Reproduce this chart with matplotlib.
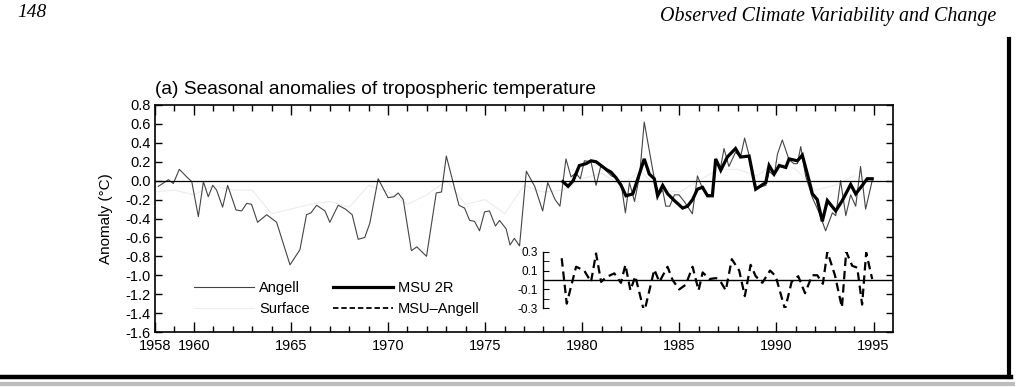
"""
Seasonal anomalies of tropospheric temperature (scanned book figure, panel a).
Values are read off the printed page by eye.
"""

import matplotlib
matplotlib.use("Agg")
import matplotlib.pyplot as plt
from matplotlib.lines import Line2D

plt.rcParams["font.family"] = ["Liberation Sans", "DejaVu Sans"]

# ── Data ──────────────────────────────────────────────────────────────
angell_t = [1958.17, 1958.69, 1958.94, 1959.25, 1959.63, 1959.89, 1960.23, 1960.49,
            1960.74, 1960.97, 1961.17, 1961.48, 1961.74, 1962.17, 1962.46, 1962.72,
            1962.97, 1963.28, 1963.75, 1964.26, 1964.95, 1965.46, 1965.80, 1966.03,
            1966.32, 1966.75, 1967.00, 1967.43, 1967.80, 1968.15, 1968.46, 1968.80,
            1969.06, 1969.49, 1970.00, 1970.30, 1970.52, 1970.78, 1971.20, 1971.48,
            1971.98, 1972.48, 1972.75, 1973.00, 1973.30, 1973.65, 1973.94, 1974.20,
            1974.45, 1974.71, 1974.97, 1975.22, 1975.53, 1975.74, 1976.08, 1976.28,
            1976.50, 1976.77, 1977.12, 1977.55, 1977.96, 1978.22, 1978.60, 1978.85,
            1979.16, 1979.42, 1979.67, 1979.90, 1980.11, 1980.45, 1980.71, 1980.97,
            1981.25, 1981.50, 1981.75, 1982.00, 1982.22, 1982.43, 1982.69, 1982.95,
            1983.19, 1983.71, 1983.95, 1984.14, 1984.30, 1984.50, 1984.75, 1984.98,
            1985.25, 1985.67, 1985.93, 1986.19, 1986.45, 1986.70, 1986.87, 1987.13,
            1987.30, 1987.55, 1987.89, 1988.15, 1988.36, 1988.60, 1988.93, 1989.45,
            1989.62, 1989.88, 1990.05, 1990.30, 1990.65, 1990.90, 1991.08, 1991.25,
            1991.50, 1991.85, 1992.20, 1992.53, 1992.88, 1993.05, 1993.30, 1993.57,
            1993.82, 1994.08, 1994.33, 1994.59, 1994.93]
angell_v = [-0.06, 0.01, -0.03, 0.12, 0.04, -0.01, -0.38, -0.01,
            -0.17, -0.05, -0.10, -0.28, -0.05, -0.31, -0.32, -0.24,
            -0.25, -0.44, -0.36, -0.44, -0.89, -0.73, -0.36, -0.34,
            -0.26, -0.32, -0.44, -0.26, -0.30, -0.36, -0.62, -0.60,
            -0.45, 0.02, -0.18, -0.17, -0.13, -0.20, -0.74, -0.70,
            -0.80, -0.13, -0.12, 0.26, 0.02, -0.26, -0.29, -0.42,
            -0.43, -0.53, -0.33, -0.32, -0.48, -0.42, -0.51, -0.68,
            -0.61, -0.69, 0.10, -0.06, -0.32, -0.02, -0.20, -0.27,
            0.23, 0.04, 0.08, 0.02, 0.21, 0.20, -0.05, 0.17,
            0.10, 0.05, 0.03, -0.03, -0.34, -0.02, -0.22, 0.05,
            0.62, 0.02, -0.15, -0.10, -0.27, -0.27, -0.15, -0.15,
            -0.22, -0.35, 0.05, -0.08, -0.15, -0.15, 0.20, 0.15,
            0.34, 0.15, 0.30, 0.25, 0.45, 0.26, -0.08, -0.05,
            0.10, 0.05, 0.28, 0.43, 0.22, 0.18, 0.18, 0.36,
            0.05, -0.18, -0.34, -0.53, -0.34, -0.37, 0.00, -0.37,
            -0.15, -0.27, 0.15, -0.30, 0.00]

msu_t = [1979.00, 1979.27, 1979.53, 1979.85, 1980.20, 1980.45, 1980.71, 1980.97,
         1981.22, 1981.48, 1981.74, 1982.00, 1982.25, 1982.60, 1982.94, 1983.19,
         1983.45, 1983.71, 1983.88, 1984.14, 1984.40, 1984.74, 1985.17, 1985.42,
         1985.68, 1985.93, 1986.19, 1986.45, 1986.70, 1986.87, 1987.13, 1987.47,
         1987.89, 1988.15, 1988.59, 1988.93, 1989.45, 1989.62, 1989.88, 1990.14,
         1990.48, 1990.65, 1991.08, 1991.33, 1991.68, 1991.85, 1992.10, 1992.36,
         1992.62, 1993.05, 1993.39, 1993.82, 1994.08, 1994.42, 1994.67, 1994.93]
msu_v = [-0.01, -0.06, 0.00, 0.16, 0.18, 0.21, 0.20, 0.16,
         0.12, 0.09, 0.03, -0.05, -0.16, -0.14, 0.07, 0.23,
         0.07, 0.02, -0.16, -0.05, -0.14, -0.21, -0.29, -0.27,
         -0.20, -0.09, -0.07, -0.16, -0.16, 0.23, 0.11, 0.25,
         0.34, 0.25, 0.26, -0.09, -0.02, 0.16, 0.07, 0.16,
         0.14, 0.23, 0.21, 0.27, 0.00, -0.14, -0.20, -0.43,
         -0.21, -0.32, -0.21, -0.04, -0.14, -0.05, 0.02, 0.02]

diff_t = [1978.94, 1979.20, 1979.68, 1980.10, 1980.45, 1980.71, 1980.97, 1981.23,
          1981.65, 1981.99, 1982.22, 1982.48, 1982.73, 1983.19, 1983.71, 1983.97,
          1984.39, 1984.65, 1984.99, 1985.33, 1985.68, 1985.99, 1986.20, 1986.55,
          1986.89, 1987.13, 1987.39, 1987.70, 1988.08, 1988.37, 1988.67, 1988.93,
          1989.27, 1989.67, 1989.96, 1990.44, 1990.78, 1991.12, 1991.47, 1991.84,
          1992.10, 1992.39, 1992.62, 1993.01, 1993.37, 1993.59, 1993.90, 1994.16,
          1994.41, 1994.62, 1994.93]
diff_v = [0.23, -0.25, 0.14, 0.10, -0.02, 0.28, -0.02, 0.03,
          0.07, -0.03, 0.16, -0.11, 0.04, -0.34, 0.11, -0.02,
          0.14, 0.00, -0.10, -0.05, 0.14, -0.11, 0.08, 0.01,
          0.02, -0.02, -0.11, 0.22, 0.10, -0.17, 0.16, 0.04,
          -0.03, 0.10, 0.04, -0.31, -0.02, 0.04, -0.14, 0.05,
          0.05, -0.04, 0.30, 0.05, -0.29, 0.30, 0.15, 0.13,
          -0.26, 0.29, 0.01]

# surface record is printed so faintly that it has all but vanished in the scan
surface_t = list(range(1958, 1995))
surface_v = [-0.12, -0.10, -0.15, -0.05, -0.10, -0.10, -0.35, -0.30, -0.25, -0.22,
             -0.28, -0.05, -0.12, -0.25, -0.15, 0.00, -0.25, -0.20, -0.35, -0.05,
             -0.12, -0.10, 0.02, 0.08, -0.05, 0.10, -0.10, -0.12, 0.00, 0.12,
             0.12, 0.05, 0.20, 0.12, -0.10, -0.05, 0.05]

x_ticks = [1958, 1960, 1965, 1970, 1975, 1980, 1985, 1990, 1995]
x_labels = ["1958", "1960", "1965", "1970", "1975", "1980", "1985", "1990", "1995"]
y_ticks = [0.8, 0.6, 0.4, 0.2, 0.0, -0.2, -0.4, -0.6, -0.8, -1.0, -1.2, -1.4, -1.6]
y_labels = ["0.8", "0.6", "0.4", "0.2", "0.0", "-0.2", "-0.4", "-0.6", "-0.8",
            "-1.0", "-1.2", "-1.4", "-1.6"]
inset_ticks = [0.3, 0.1, -0.1, -0.3]
inset_labels = ["0.3", "0.1", "-0.1", "-0.3"]

# ── Layout ────────────────────────────────────────────────────────────
XMIN, XMAX = 1958, 1996
YMIN, YMAX = -1.6, 0.8
INSET_X0 = 1978.0       # inset starts here on the main time axis
INSET_ZERO = -1.05      # inset zero line sits at this main-axis value
INSET_HALF = 0.3

fig = plt.figure(figsize=(10.18, 3.87), dpi=100)
L, B, W, H = 0.1523, 0.1421, 0.7249, 0.5866
ax = fig.add_axes([L, B, W, H])

ax.plot(surface_t, surface_v, color="#ececec", lw=0.8, label="Surface")
ax.plot(angell_t, angell_v, color="#444444", lw=0.8, label="Angell")
ax.plot(msu_t, msu_v, color="black", lw=2.3, solid_joinstyle="miter", label="MSU 2R")
ax.axhline(0, color="black", lw=0.9)

ax.set_xlim(XMIN, XMAX)
ax.set_ylim(YMIN, YMAX)
ax.set_xticks(x_ticks)
ax.set_xticklabels(x_labels)
ax.set_xticks(range(1958, 1996), minor=True)
ax.set_yticks(y_ticks)
ax.set_yticklabels(y_labels)
ax.tick_params(axis="both", which="both", direction="in", top=True, right=True,
               labelsize=10.5, width=1.0)
ax.tick_params(axis="x", which="major", length=7, pad=5)
ax.tick_params(axis="x", which="minor", length=4)
ax.tick_params(axis="y", length=5, pad=3)
for s in ax.spines.values():
    s.set_linewidth(1.2)
ax.set_ylabel("Anomaly (°C)", fontsize=11, labelpad=9)

# inset with the difference series, same vertical scale as the main panel
ix = L + (INSET_X0 - XMIN) / (XMAX - XMIN) * W
iw = L + W - ix
ib = B + (INSET_ZERO - INSET_HALF - YMIN) / (YMAX - YMIN) * H
ih = 2 * INSET_HALF / (YMAX - YMIN) * H
ins = fig.add_axes([ix, ib, iw, ih])
ins.patch.set_alpha(0)
ins.plot(diff_t, diff_v, color="black", lw=1.6, dashes=(3.8, 2.2), label="MSU\u2013Angell")
ins.axhline(0, color="black", lw=1.0)
ins.set_xlim(INSET_X0, XMAX)
ins.set_ylim(-INSET_HALF, INSET_HALF)
for side in ["top", "right", "bottom"]:
    ins.spines[side].set_visible(False)
ins.spines["left"].set_linewidth(1.0)
ins.set_xticks([])
ins.set_yticks(inset_ticks)
ins.set_yticklabels(inset_labels)
ins.set_yticks([0.2, 0.0, -0.2], minor=True)
ins.tick_params(axis="y", which="both", direction="in", length=4, labelsize=8.5, pad=4)

# legend: Angell / Surface in the first column, MSU 2R / MSU-Angell in the second
hdl = [Line2D([], [], color="#444444", lw=0.8),
       Line2D([], [], color="#ececec", lw=0.8),
       Line2D([], [], color="black", lw=2.3),
       Line2D([], [], color="black", lw=1.3, dashes=(3, 1.6))]
lab = ["Angell", "Surface", "MSU 2R", "MSU\u2013Angell"]
ax.legend(hdl, lab, ncol=2, frameon=False, fontsize=10.5, loc="upper left",
          bbox_to_anchor=(0.035, 0.282), handlelength=4.1, handletextpad=0.35,
          columnspacing=1.6, labelspacing=0.45)

fig.text(L, 0.748, "(a) Seasonal anomalies of tropospheric temperature",
         fontsize=13.8, ha="left", va="bottom")

# page header of the scanned book
fig.text(0.017, 0.968, "148", fontsize=14, style="italic", ha="left", va="center",
         family=["Liberation Serif", "DejaVu Serif"])
fig.text(0.979, 0.958, "Observed Climate Variability and Change", fontsize=14.4,
         style="italic", ha="right", va="center",
         family=["Liberation Serif", "DejaVu Serif"])

# page edge of the scan
fig.add_artist(Line2D([0, 0.993], [0.025, 0.025], color="black", lw=3.2,
                      transform=fig.transFigure))
fig.add_artist(Line2D([0.991, 0.991], [0.025, 0.90], color="black", lw=3.0,
                      transform=fig.transFigure))
fig.add_artist(Line2D([0, 0.995], [0.008, 0.008], color="#bdbdbd", lw=3,
                      transform=fig.transFigure))

fig.savefig("out.png", dpi=100)
